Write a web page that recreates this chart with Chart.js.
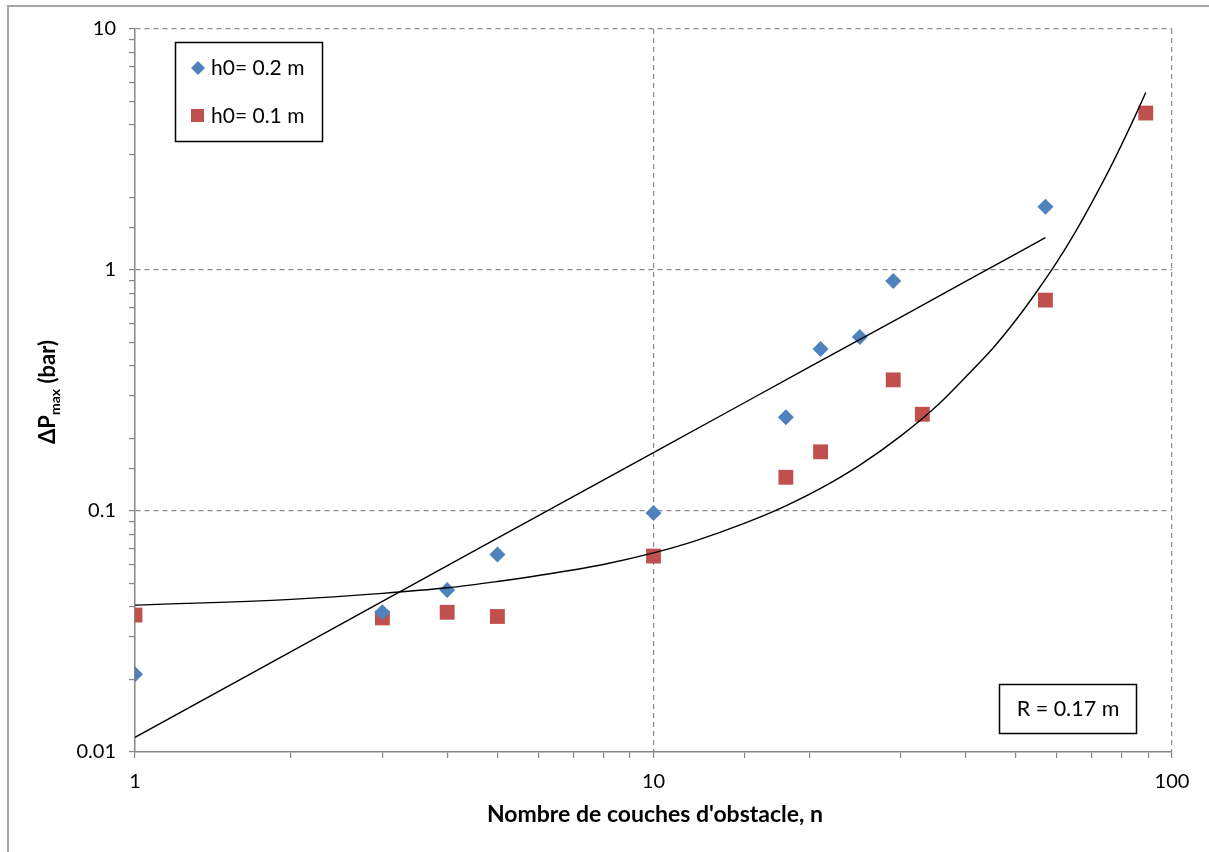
<!DOCTYPE html>
<html>
<head>
<meta charset="utf-8">
<script src="https://cdn.jsdelivr.net/npm/chart.js@4.4.1/dist/chart.umd.min.js"></script>
<style>
  html, body { margin: 0; padding: 0; background: #fff; }
  #wrap { width: 1209px; height: 852px; }
</style>
</head>
<body>
<div id="wrap"><canvas id="chart" width="1209" height="852"></canvas></div>
<script>
// measured points, h0 = 0.2 m
const blueN = [1, 3, 4, 5, 10, 18, 21, 25, 29, 57];
const blueP = [0.021, 0.038, 0.047, 0.066, 0.098, 0.245, 0.47, 0.527, 0.90, 1.83];

// measured points, h0 = 0.1 m
const redN = [1, 3, 4, 5, 10, 18, 21, 29, 33, 57, 89];
const redP = [0.037, 0.036, 0.038, 0.0365, 0.065, 0.138, 0.176, 0.35, 0.252, 0.75, 4.48];

// trend lines
const blueFitN = [1, 2, 3, 5, 7, 10, 15, 20, 30, 40, 50, 57];
const blueFitP = [0.0115, 0.0261, 0.0422, 0.0771, 0.1147, 0.1747, 0.282, 0.396, 0.638, 0.897, 1.167, 1.362];
const redFitN = [1, 2, 3, 4, 5, 6, 8, 10, 12, 15, 18, 21, 25, 30, 35, 40, 45, 50, 55, 60, 65, 70, 75, 80, 85, 89];
const redFitP = [0.0407, 0.043, 0.0455, 0.048, 0.051, 0.054, 0.060, 0.067, 0.075, 0.089, 0.105, 0.124, 0.155,
  0.205, 0.27, 0.36, 0.47, 0.62, 0.82, 1.08, 1.43, 1.90, 2.51, 3.32, 4.38, 5.45];

const legendLabels = ['h0= 0.2 m', 'h0= 0.1 m'];
const xTitle = "Nombre de couches d'obstacle, n";
const noteText = 'R = 0.17 m';

const BLUE = '#4F81BD';
const RED = '#C0504D';
const AXIS = '#868686';
const FONT = 'Lato, "Open Sans", "DejaVu Sans", sans-serif';

const toXY = (xs, ys) => xs.map((x, i) => ({ x: x, y: ys[i] }));

const isPow10 = v => Math.abs(Math.log10(v) - Math.round(Math.log10(v))) < 1e-9;

// dashed grid only on decades, hide the ones lying on the axis lines
function gridColor(ctx) {
  const v = ctx.tick && ctx.tick.value;
  if (v === undefined || !isPow10(v)) return 'rgba(0,0,0,0)';
  if (v === ctx.scale.min) return 'rgba(0,0,0,0)';
  return '#8c8c8c';
}

const extras = {
  id: 'extras',
  beforeDraw(chart) {
    const ctx = chart.ctx;
    ctx.save();
    ctx.fillStyle = '#fff';
    ctx.fillRect(0, 0, chart.width, chart.height);
    ctx.strokeStyle = '#a6a6a6';
    ctx.lineWidth = 2;
    ctx.strokeRect(8, 6, 1400, 1000);
    ctx.restore();
  },
  afterDraw(chart) {
    const ctx = chart.ctx;
    ctx.save();
    ctx.fillStyle = '#000';

    // x axis title
    ctx.font = 'bold 23px ' + FONT;
    ctx.textAlign = 'center';
    ctx.textBaseline = 'middle';
    ctx.fillText(xTitle, 655, 815);

    // y axis title with subscript
    ctx.translate(48, 392);
    ctx.rotate(-Math.PI / 2);
    ctx.textAlign = 'left';
    const big = 'bold 22px ' + FONT;
    const small = 'bold 14px ' + FONT;
    ctx.font = big;
    const w1 = ctx.measureText('ΔP').width;
    const w3 = ctx.measureText(' (bar)').width;
    ctx.font = small;
    const w2 = ctx.measureText('max').width;
    const x0 = -(w1 + w2 + w3) / 2;
    ctx.font = big;
    ctx.fillText('ΔP', x0, 0);
    ctx.font = small;
    ctx.fillText('max', x0 + w1, 7);
    ctx.font = big;
    ctx.fillText(' (bar)', x0 + w1 + w2, 0);
    ctx.setTransform(1, 0, 0, 1, 0, 0);

    // legend box
    ctx.lineWidth = 1.5;
    ctx.strokeStyle = '#000';
    ctx.strokeRect(175.5, 42.5, 147, 99);
    ctx.font = '21px ' + FONT;
    ctx.textAlign = 'left';
    ctx.textBaseline = 'middle';
    ctx.fillStyle = BLUE;
    ctx.beginPath();
    ctx.moveTo(198, 61); ctx.lineTo(205, 68); ctx.lineTo(198, 75); ctx.lineTo(191, 68);
    ctx.closePath();
    ctx.fill();
    ctx.fillStyle = RED;
    ctx.fillRect(191, 109, 13, 13);
    ctx.fillStyle = '#000';
    ctx.fillText(legendLabels[0], 211, 68);
    ctx.fillText(legendLabels[1], 211, 116);

    // radius note
    ctx.strokeRect(999.5, 684.5, 137, 49);
    ctx.textAlign = 'center';
    ctx.font = '21.5px ' + FONT;
    ctx.fillText(noteText, 1068, 709);
    ctx.restore();
  }
};

new Chart(document.getElementById('chart'), {
  type: 'scatter',
  data: {
    datasets: [
      {
        label: 'fit h0 = 0.2 m',
        data: toXY(blueFitN, blueFitP),
        showLine: true,
        borderColor: '#000',
        borderWidth: 1.4,
        pointRadius: 0,
        order: 0
      },
      {
        label: 'fit h0 = 0.1 m',
        data: toXY(redFitN, redFitP),
        showLine: true,
        borderColor: '#000',
        borderWidth: 1.4,
        pointRadius: 0,
        cubicInterpolationMode: 'monotone',
        order: 1
      },
      {
        label: legendLabels[0],
        data: toXY(blueN, blueP),
        pointStyle: 'rectRot',
        pointRadius: 8,
        backgroundColor: BLUE,
        borderColor: BLUE,
        borderWidth: 0,
        order: 2
      },
      {
        label: legendLabels[1],
        data: toXY(redN, redP),
        pointStyle: 'rect',
        pointRadius: 10.5,
        backgroundColor: RED,
        borderColor: RED,
        borderWidth: 0,
        order: 3
      }
    ]
  },
  options: {
    responsive: false,
    animation: false,
    layout: { padding: { left: 0, top: 29, right: 37, bottom: 0 } },
    plugins: {
      legend: { display: false },
      tooltip: { enabled: false }
    },
    scales: {
      x: {
        type: 'logarithmic',
        min: 1,
        max: 100,
        afterFit: s => { s.height = 100; },
        border: { color: AXIS, width: 1.5, dash: [5, 4] },
        grid: { color: gridColor, lineWidth: 1.2, tickColor: AXIS, tickLength: 6, tickWidth: 1.2 },
        ticks: {
          autoSkip: false,
          maxRotation: 0,
          padding: 12,
          color: '#000',
          font: { family: FONT, size: 20 },
          callback: v => isPow10(v) ? String(v) : ''
        }
      },
      y: {
        type: 'logarithmic',
        min: 0.01,
        max: 10,
        afterFit: s => { s.width = 135; },
        border: { color: AXIS, width: 1.5, dash: [5, 4] },
        grid: { color: gridColor, lineWidth: 1.2, tickColor: AXIS, tickLength: 6, tickWidth: 1.2 },
        ticks: {
          autoSkip: false,
          padding: 13,
          color: '#000',
          font: { family: FONT, size: 20 },
          callback: v => isPow10(v) ? String(Number(v.toPrecision(3))) : ''
        }
      }
    }
  },
  plugins: [extras]
});
</script>
</body>
</html>
